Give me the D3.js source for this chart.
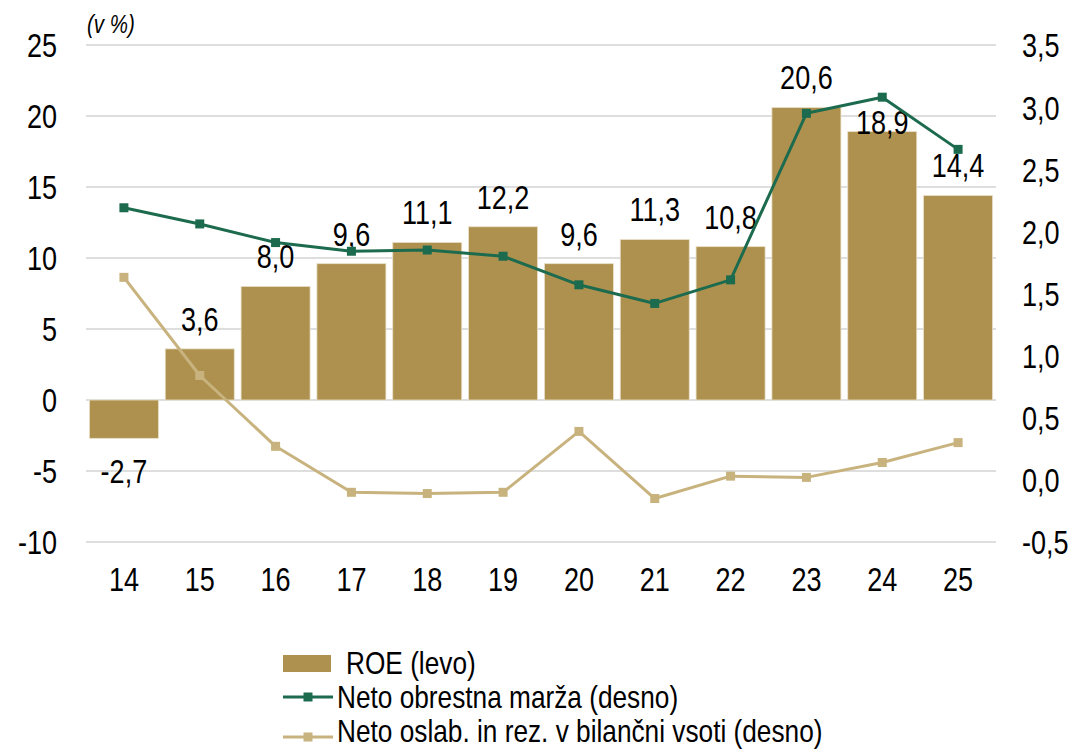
<!DOCTYPE html>
<html>
<head>
<meta charset="utf-8">
<script src="https://cdn.jsdelivr.net/npm/d3@7"></script>
<style>
  html, body { margin: 0; padding: 0; background: #ffffff; }
  svg { display: block; }
</style>
</head>
<body>
<svg id="chart" width="1092" height="753"></svg>
<script>
// ---- data ----
const categories = ["14","15","16","17","18","19","20","21","22","23","24","25"];
const roe = [-2.7, 3.6, 8.0, 9.6, 11.1, 12.2, 9.6, 11.3, 10.8, 20.6, 18.9, 14.4];
const netoObrestnaMarza = [2.19, 2.06, 1.91, 1.84, 1.85, 1.80, 1.57, 1.42, 1.61, 2.95, 3.08, 2.66];
const netoOslab = [1.63, 0.84, 0.27, -0.10, -0.11, -0.10, 0.39, -0.15, 0.03, 0.02, 0.14, 0.30];
const leftTicks = [-10, -5, 0, 5, 10, 15, 20, 25];
const rightTicks = [-0.5, 0, 0.5, 1.0, 1.5, 2.0, 2.5, 3.0, 3.5];
const seriesNames = ["ROE (levo)", "Neto obrestna marža (desno)", "Neto oslab. in rez. v bilančni vsoti (desno)"];
const unitLabel = "(v %)";

// ---- font detection ----
function hasFont(name) {
  const c = document.createElement("canvas").getContext("2d");
  const s = "0123456789,ROE levo marža";
  c.font = "40px monospace"; const a = c.measureText(s).width;
  c.font = `40px "${name}", monospace`; const b = c.measureText(s).width;
  return Math.abs(a - b) > 0.5;
}
const narrow = hasFont("Liberation Sans Narrow");
const FONT = narrow ? "'Liberation Sans Narrow', 'Arial Narrow', sans-serif" : "'Liberation Sans', Arial, sans-serif";
const SX = narrow ? 1 : 0.82;
const FS = 33, FS_LEG = 32;

const colBar = "#AF914F", colGreen = "#1D6B4E", colTan = "#C8B37E", colGrid = "#BDBDBD";

const svg = d3.select("#chart");
const plot = { left: 86, right: 996, top: 45, bottom: 542 };

const x = d3.scaleBand().domain(categories).range([plot.left, plot.right]).paddingInner(0.09).paddingOuter(0.045);
const yL = d3.scaleLinear().domain([-10, 25]).range([plot.bottom, plot.top]);
const yR = d3.scaleLinear().domain([-0.5, 3.5]).range([plot.bottom, plot.top]);
const cx = c => x(c) + x.bandwidth() / 2;

function txt(parent, px, py, s, size, anchor, extra) {
  const t = parent.append("text")
    .attr("transform", `translate(${px},${py}) scale(${SX},1)`)
    .attr("font-family", FONT).attr("font-size", size)
    .attr("text-anchor", anchor || "start").attr("fill", "#000")
    .text(s);
  if (extra) extra(t);
  return t;
}

// gridlines
svg.append("g").selectAll("line").data(leftTicks).join("line")
  .attr("x1", plot.left).attr("x2", plot.right)
  .attr("y1", d => yL(d)).attr("y2", d => yL(d))
  .attr("stroke", colGrid).attr("stroke-width", 1.2);

// left axis
const gL = svg.append("g").attr("transform", `translate(${plot.left},0)`)
  .call(d3.axisLeft(yL).tickValues(leftTicks).tickSize(0).tickPadding(29).tickFormat(d => String(d)));
gL.select(".domain").remove();
gL.selectAll("text").attr("font-family", FONT).attr("font-size", FS).attr("fill", "#000")
  .attr("transform", `scale(${SX},1)`).attr("x", -29 / SX).attr("dy", "0.36em");

// right axis
const fmtR = d => d3.format(".1f")(d).replace("−", "-").replace(".", ",");
const gR = svg.append("g").attr("transform", `translate(${plot.right},0)`)
  .call(d3.axisRight(yR).tickValues(rightTicks).tickSize(0).tickPadding(26).tickFormat(fmtR));
gR.select(".domain").remove();
gR.selectAll("text").attr("font-family", FONT).attr("font-size", FS).attr("fill", "#000")
  .attr("transform", `scale(${SX},1)`).attr("x", 26 / SX).attr("dy", "0.36em");

// bottom axis
const gB = svg.append("g").attr("transform", `translate(0,${plot.bottom})`)
  .call(d3.axisBottom(x).tickSize(0).tickPadding(25));
gB.select(".domain").remove();
gB.selectAll("text").attr("font-family", FONT).attr("font-size", FS).attr("fill", "#000")
  .attr("transform", `scale(${SX},1)`).attr("dy", "0.72em");

// bars
svg.append("g").selectAll("rect").data(roe).join("rect")
  .attr("x", (d, i) => x(categories[i]))
  .attr("width", x.bandwidth())
  .attr("y", d => yL(Math.max(0, d)))
  .attr("height", d => Math.abs(yL(d) - yL(0)))
  .attr("fill", colBar).attr("stroke", "#E9E0C8").attr("stroke-width", 0.8);

// bar labels
const labels = svg.append("g");
roe.forEach((d, i) => {
  const c = categories[i];
  const s = d3.format(".1f")(d).replace("−", "-").replace(".", ",");
  let py;
  if (d < 0) py = yL(d) + 33;
  else py = yL(d) - (c === "24" ? 10 : 30);
  txt(labels, cx(c), py, s, FS, "middle", t => t.attr("dy", "0.36em"));
});

// lines
function drawLine(vals, color) {
  const g = svg.append("g");
  const line = d3.line().x((d, i) => cx(categories[i])).y(d => yR(d));
  g.append("path").datum(vals).attr("d", line).attr("fill", "none")
    .attr("stroke", color).attr("stroke-width", 3).attr("stroke-linejoin", "round");
  g.selectAll("rect").data(vals).join("rect")
    .attr("x", (d, i) => cx(categories[i]) - 4.5).attr("y", d => yR(d) - 4.5)
    .attr("width", 9).attr("height", 9).attr("fill", color);
}
drawLine(netoOslab, colTan);
drawLine(netoObrestnaMarza, colGreen);

// unit label
txt(svg, 87, 33, unitLabel, 25, "start", t => t.attr("font-style", "italic"));

// legend
const lg = svg.append("g");
lg.append("rect").attr("x", 283).attr("y", 655).attr("width", 48).attr("height", 17).attr("fill", colBar);
txt(lg, 346, 674, seriesNames[0], FS_LEG, "start");
[[colGreen, 697, 708, seriesNames[1]], [colTan, 737, 742, seriesNames[2]]].forEach(([col, ly, base, name]) => {
  lg.append("line").attr("x1", 283).attr("x2", 333).attr("y1", ly).attr("y2", ly)
    .attr("stroke", col).attr("stroke-width", 3);
  lg.append("rect").attr("x", 308 - 4.5).attr("y", ly - 4.5).attr("width", 9).attr("height", 9).attr("fill", col);
  txt(lg, 337, base, name, FS_LEG, "start");
});
</script>
</body>
</html>
